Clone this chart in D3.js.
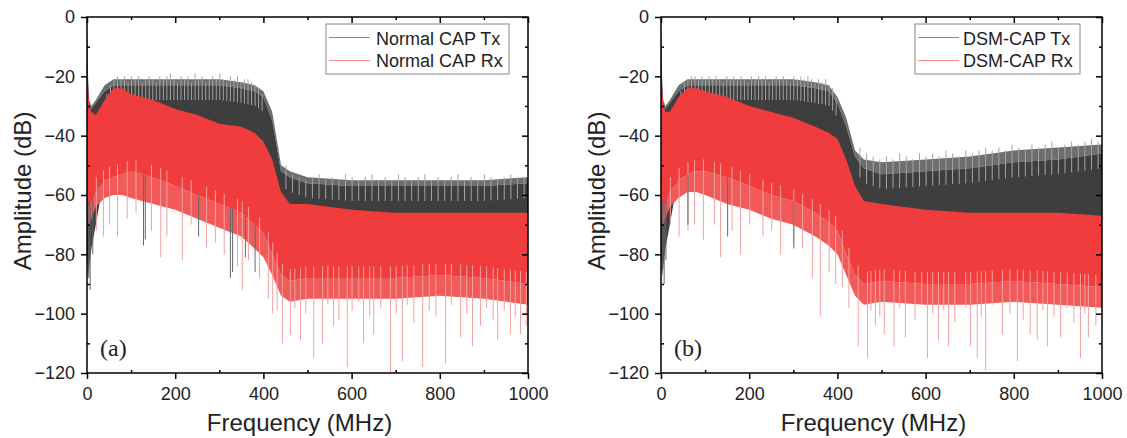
<!DOCTYPE html>
<html>
<head>
<meta charset="utf-8">
<script src="https://cdn.jsdelivr.net/npm/d3@7"></script>
<style>
  body { margin: 0; background: #fff; }
  svg { display: block; }
  text { font-family: Arial, "Liberation Sans", sans-serif; fill: #222; }
</style>
</head>
<body>
<svg id="chart" width="1127" height="438"></svg>
<script>
// frequency grid (MHz) for the band envelopes
const freq = [0, 2, 5, 10, 20, 40, 60, 80, 100, 150, 200, 250, 300, 350, 380, 400, 420, 440, 460, 500, 600, 700, 800, 900, 1000];

// (a) Normal CAP — band edges (dB); "fringe" = sparse spike zone next to the solid band
const normalTxFringe = [-2, -19, -28, -30, -28, -23, -21, -21, -21, -21, -21, -21, -21, -22, -23, -25, -32, -50, -52, -54, -55, -55, -55, -55, -54];
const normalTxTop = [-2, -20, -29, -31, -29, -25, -23, -23, -23, -23, -23, -23, -23, -24, -25, -27, -35, -52, -54, -56, -57, -57, -57, -57, -56];
const normalTxBot = [-80, -88, -84, -78, -70, -53, -52, -52, -52, -53, -55, -58, -61, -64, -68, -71, -78, -85, -87, -86, -86, -86, -85, -86, -88];
const normalRxTop = [-3, -22, -29, -32, -33, -28, -24, -24, -26, -28, -31, -33, -36, -37, -39, -42, -48, -59, -63, -63, -65, -66, -66, -66, -66];
const normalRxBot = [-50, -62, -64, -62, -58, -55, -54, -53, -52, -54, -57, -60, -63, -66, -70, -73, -80, -87, -89, -88, -88, -88, -87, -88, -90];
const normalRxFringe = [-58, -69, -70, -68, -64, -61, -60, -60, -61, -63, -65, -68, -71, -74, -78, -81, -87, -94, -96, -95, -95, -95, -94, -95, -97];

// (a) spikes
const normalTxPeakF = [44, 52, 60, 68, 76, 84, 92, 100, 108, 116, 124, 132, 140, 148, 156, 164, 172, 180, 188, 196, 204, 212, 220, 228, 236, 244, 252, 260, 268, 276, 284, 292, 300, 308, 316, 324, 332, 340, 348, 356, 364, 372, 380, 388, 396,
  450, 465, 480, 495, 510, 525, 540, 555, 570, 585, 600, 615, 630, 645, 660, 675, 690, 705, 720, 735, 750, 765, 780, 795, 810, 825, 840, 855, 870, 885, 900, 915, 930, 945, 960, 975, 990];
const normalTxPeakV = [-26, -23, -21, -20, -21, -20, -22, -20, -21, -20, -22, -21, -20, -21, -22, -20, -21, -20, -19, -21, -22, -20, -21, -20, -22, -19, -21, -20, -22, -21, -20, -21, -19, -21, -22, -20, -21, -20, -22, -21, -21, -22, -23, -24, -26,
  -50, -53, -54, -55, -54, -53, -55, -54, -55, -53, -54, -55, -54, -53, -55, -54, -55, -53, -54, -55, -54, -53, -55, -54, -55, -54, -53, -55, -54, -55, -53, -54, -55, -54, -53, -54, -54];
const normalTxDipF = [3, 6, 12, 127, 131, 252, 324, 329, 358, 380];
const normalTxDipV = [-88, -92, -80, -77, -75, -74, -88, -86, -81, -86];
const normalRxDipF = [20, 36, 50, 68, 90, 110, 145, 166, 180, 215, 235, 270, 290, 310, 340, 351, 365, 390, 410, 420,
  430, 442, 460, 483, 513, 533, 558, 589, 626, 649, 687, 714, 760, 812, 846, 873, 891, 930, 959, 982,
  470, 495, 545, 570, 600, 615, 640, 665, 700, 725, 740, 775, 790, 825, 860, 905, 920, 945, 970, 995];
const normalRxDipV = [-72, -74, -70, -74, -68, -66, -72, -81, -74, -82, -70, -78, -76, -80, -84, -92, -82, -88, -95, -100,
  -99, -110, -107, -109, -115, -110, -104, -118, -110, -107, -120, -116, -118, -117, -108, -111, -104, -109, -107, -107,
  -98, -100, -97, -102, -99, -96, -101, -98, -100, -97, -103, -99, -101, -97, -100, -98, -102, -99, -101, -104];

// (b) DSM-CAP — band edges (dB)
const dsmTxFringe = [-2, -19, -28, -30, -28, -23, -21, -21, -21, -21, -21, -21, -21, -22, -23, -27, -34, -45, -48, -49, -48, -47, -45, -44, -43];
const dsmTxTop = [-2, -20, -29, -31, -29, -25, -23, -23, -23, -23, -23, -23, -23, -24, -25, -29, -37, -47, -51, -53, -52, -51, -49, -48, -46];
const dsmTxBot = [-80, -88, -84, -78, -70, -53, -51, -51, -51, -53, -55, -58, -60, -64, -67, -70, -78, -85, -88, -87, -88, -88, -87, -88, -89];
const dsmRxTop = [-3, -22, -29, -32, -32, -27, -24, -24, -25, -27, -30, -32, -34, -37, -39, -41, -48, -57, -62, -63, -65, -66, -66, -66, -67];
const dsmRxBot = [-50, -62, -64, -62, -58, -55, -53, -52, -52, -54, -57, -60, -62, -66, -69, -72, -80, -87, -90, -89, -90, -90, -89, -90, -91];
const dsmRxFringe = [-58, -69, -70, -68, -64, -61, -59, -59, -60, -63, -65, -68, -70, -74, -77, -80, -87, -94, -97, -96, -97, -97, -96, -97, -98];

// (b) spikes
const dsmTxPeakF = normalTxPeakF;
const dsmTxPeakV = [-25, -22, -21, -20, -20, -21, -20, -21, -20, -21, -20, -21, -22, -20, -21, -20, -21, -20, -21, -22, -20, -21, -20, -21, -20, -22, -21, -20, -21, -20, -21, -22, -20, -21, -20, -21, -20, -21, -22, -21, -22, -21, -23, -24, -27,
  -44, -46, -47, -48, -47, -48, -46, -47, -48, -46, -47, -46, -47, -45, -46, -47, -45, -46, -45, -44, -45, -44, -45, -43, -44, -45, -43, -44, -43, -42, -44, -43, -42, -43, -42, -41, -42];
const dsmTxDipF = [3, 6, 10, 60, 150, 300];
const dsmTxDipV = [-85, -90, -82, -70, -74, -78];
const dsmRxDipF = [20, 40, 60, 75, 95, 120, 134, 160, 179, 200, 230, 250, 270, 300, 320, 342, 360, 380, 395, 410,
  425, 446, 467, 485, 505, 527, 553, 603, 628, 651, 701, 716, 735, 773, 807, 836, 852, 875, 905, 950, 968,
  475, 495, 540, 575, 590, 615, 640, 665, 690, 725, 750, 790, 820, 865, 890, 920, 935, 960, 985];
const dsmRxDipV = [-70, -74, -72, -70, -75, -70, -81, -72, -80, -70, -74, -72, -80, -76, -78, -88, -101, -86, -90, -91,
  -98, -111, -115, -104, -107, -111, -108, -115, -109, -111, -111, -115, -119, -107, -116, -107, -109, -111, -108, -115, -108,
  -99, -101, -98, -102, -97, -100, -99, -103, -98, -101, -97, -100, -102, -99, -101, -98, -103, -100, -104];

const xTicks = [0, 200, 400, 600, 800, 1000];
const xMinor = [100, 300, 500, 700, 900];
const yTicks = [-120, -100, -80, -60, -40, -20, 0];
const yMinor = [-110, -90, -70, -50, -30, -10];

const panels = [
  { left: 87, right: 528, label: '(a)', names: ['Normal CAP Tx', 'Normal CAP Rx'], legX: 326, legW: 183, lineX: [329, 370], textX: 376,
    txFringe: normalTxFringe, txTop: normalTxTop, txBot: normalTxBot, rxTop: normalRxTop, rxBot: normalRxBot, rxFringe: normalRxFringe,
    txPeakF: normalTxPeakF, txPeakV: normalTxPeakV, txDipF: normalTxDipF, txDipV: normalTxDipV, rxDipF: normalRxDipF, rxDipV: normalRxDipV },
  { left: 661, right: 1102, label: '(b)', names: ['DSM-CAP Tx', 'DSM-CAP Rx'], legX: 915, legW: 165, lineX: [918, 959], textX: 963,
    txFringe: dsmTxFringe, txTop: dsmTxTop, txBot: dsmTxBot, rxTop: dsmRxTop, rxBot: dsmRxBot, rxFringe: dsmRxFringe,
    txPeakF: dsmTxPeakF, txPeakV: dsmTxPeakV, txDipF: dsmTxDipF, txDipV: dsmTxDipV, rxDipF: dsmRxDipF, rxDipV: dsmRxDipV }
];

const plotTop = 17, plotBottom = 373;
const svg = d3.select('#chart');
const gray = '#3e3e3e', midGray = '#6e6e6e', lightGray = '#a4a4a4';
const red = '#f03c3c', lightRed = '#f25a5a', pink = '#f3a0a0';

panels.forEach((p, i) => {
  const x = d3.scaleLinear().domain([0, 1000]).range([p.left, p.right]);
  const y = d3.scaleLinear().domain([-120, 0]).range([plotBottom, plotTop]);
  // piecewise lookups along the band edges
  const txTopAt = d3.scaleLinear().domain(freq).range(p.txTop);
  const rxBotAt = d3.scaleLinear().domain(freq).range(p.rxBot);

  const clipId = 'clip' + i;
  svg.append('clipPath').attr('id', clipId).append('rect')
      .attr('x', p.left).attr('y', plotTop).attr('width', p.right - p.left).attr('height', plotBottom - plotTop);

  const g = svg.append('g').attr('clip-path', `url(#${clipId})`);

  const area = (hi, lo) => d3.area()
      .x((d, k) => x(freq[k]))
      .y0((d, k) => y(lo[k]))
      .y1((d, k) => y(hi[k]));
  const vline = (sel, cls, fs, y1, y2, color) => sel.selectAll('.' + cls).data(fs).enter().append('line')
      .attr('class', cls)
      .attr('x1', d => x(d) + 0.5).attr('x2', d => x(d) + 0.5)
      .attr('y1', y1).attr('y2', y2)
      .attr('stroke', color).attr('stroke-width', 1);

  // Tx band
  g.append('path').datum(freq).attr('d', area(p.txFringe, p.txTop)).attr('fill', midGray);
  g.append('path').datum(freq).attr('d', area(p.txTop, p.txBot)).attr('fill', gray);
  vline(g, 'txpeak', p.txPeakF, (d, k) => y(p.txPeakV[k]), d => y(txTopAt(d) - 5), lightGray);

  // Rx band
  g.append('path').datum(freq).attr('d', area(p.rxBot, p.rxFringe)).attr('fill', lightRed);
  g.append('path').datum(freq).attr('d', area(p.rxTop, p.rxBot)).attr('fill', red);
  vline(g, 'rxdip', p.rxDipF, d => y(rxBotAt(d) + 4), (d, k) => y(p.rxDipV[k]), pink);
  vline(g, 'txdip', p.txDipF, d => y(rxBotAt(d)), (d, k) => y(p.txDipV[k]), '#666');

  // axes
  const ax = svg.append('g');
  const fmt = d3.format('d');
  const clean = s => s.select('.domain').remove();
  ax.append('g').attr('transform', `translate(0,${plotBottom})`)
      .call(d3.axisBottom(x).tickValues(xTicks).tickSizeInner(6).tickSizeOuter(0).tickPadding(8).tickFormat(fmt))
      .call(clean).call(s => s.selectAll('text').attr('font-size', 18).attr('fill', '#222'));
  ax.append('g').attr('transform', `translate(0,${plotBottom})`)
      .call(d3.axisBottom(x).tickValues(xMinor).tickSizeInner(-3).tickSizeOuter(0).tickFormat(''))
      .call(clean);
  ax.append('g').attr('transform', `translate(0,${plotTop})`)
      .call(d3.axisTop(x).tickValues(xTicks).tickSizeInner(-6).tickSizeOuter(0).tickFormat(''))
      .call(clean);
  ax.append('g').attr('transform', `translate(0,${plotTop})`)
      .call(d3.axisTop(x).tickValues(xMinor).tickSizeInner(-3).tickSizeOuter(0).tickFormat(''))
      .call(clean);
  ax.append('g').attr('transform', `translate(${p.left},0)`)
      .call(d3.axisLeft(y).tickValues(yTicks).tickSizeInner(6).tickSizeOuter(0).tickPadding(6).tickFormat(fmt))
      .call(clean).call(s => s.selectAll('text').attr('font-size', 18).attr('fill', '#222'));
  ax.append('g').attr('transform', `translate(${p.left},0)`)
      .call(d3.axisLeft(y).tickValues(yMinor).tickSizeInner(-3).tickSizeOuter(0).tickFormat(''))
      .call(clean);
  ax.append('g').attr('transform', `translate(${p.right},0)`)
      .call(d3.axisRight(y).tickValues(yTicks).tickSizeInner(-6).tickSizeOuter(0).tickFormat(''))
      .call(clean);
  ax.append('g').attr('transform', `translate(${p.right},0)`)
      .call(d3.axisRight(y).tickValues(yMinor).tickSizeInner(-3).tickSizeOuter(0).tickFormat(''))
      .call(clean);
  ax.selectAll('line').attr('stroke', '#000').attr('stroke-width', 1.5);

  svg.append('rect')
      .attr('x', p.left).attr('y', plotTop).attr('width', p.right - p.left).attr('height', plotBottom - plotTop)
      .attr('fill', 'none').attr('stroke', '#000').attr('stroke-width', 1.5);

  // titles
  svg.append('text')
      .attr('x', (p.left + p.right) / 2 - 8).attr('y', 431)
      .attr('text-anchor', 'middle').attr('font-size', 24)
      .text('Frequency (MHz)');
  svg.append('text')
      .attr('transform', `translate(${p.left - 56},191) rotate(-90)`)
      .attr('text-anchor', 'middle').attr('font-size', 24)
      .text('Amplitude (dB)');

  svg.append('text')
      .attr('x', p.left + 13).attr('y', 356)
      .style('font-family', '"Liberation Serif", "Times New Roman", serif')
      .attr('font-size', 24)
      .text(p.label);

  // legend
  const leg = svg.append('g');
  leg.append('rect')
      .attr('x', p.legX).attr('y', 24).attr('width', p.legW).attr('height', 50)
      .attr('fill', '#fff').attr('stroke', '#888').attr('stroke-width', 1);
  [[37, 45, '#8a8a8a'], [60, 67, '#f08a8a']].forEach(([ly, ty, c], k) => {
    leg.append('line')
        .attr('x1', p.lineX[0]).attr('x2', p.lineX[1]).attr('y1', ly + 0.5).attr('y2', ly + 0.5)
        .attr('stroke', c).attr('stroke-width', 1);
    leg.append('text')
        .attr('x', p.textX).attr('y', ty).attr('font-size', 18)
        .text(p.names[k]);
  });
});
</script>
</body>
</html>
